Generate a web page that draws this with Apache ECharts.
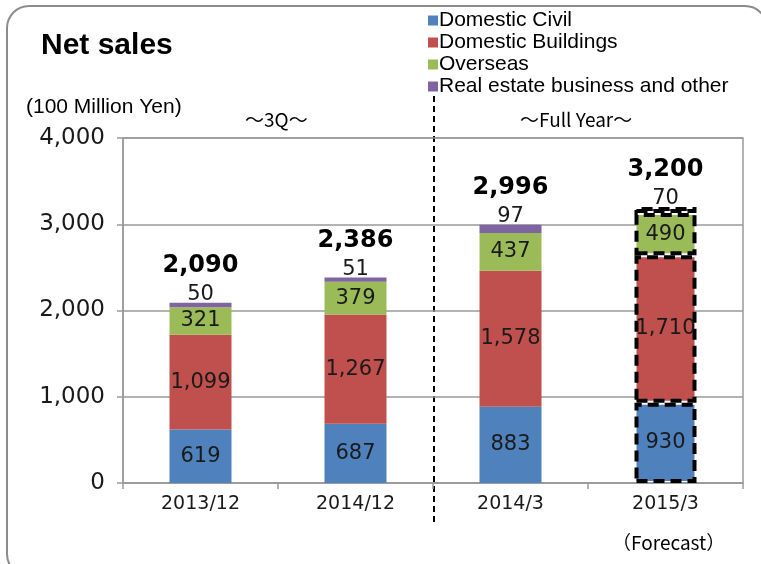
<!doctype html>
<html>
    <head>
        <meta charset="utf-8">
        <style>
            html, body { margin: 0; padding: 0; background: #fff; }
            #main { width: 761px; height: 564px; }
        </style>
    </head>
    <body>
        <div id="main"></div>
        <script src="https://cdn.jsdelivr.net/npm/echarts@6/dist/echarts.min.js"></script>
        <script>
            var categories = ['2013/12', '2014/12', '2014/3', '2015/3'];
            var domesticCivil = [619, 687, 883, 930];
            var domesticBuildings = [1099, 1267, 1578, 1710];
            var overseas = [321, 379, 437, 490];
            var realEstate = [50, 51, 97, 70];
            var totals = [2090, 2386, 2996, 3200];
            var yTicks = [0, 1000, 2000, 3000, 4000];
            var forecastIndex = 3;

            var NUM_FONT = 'DejaVu Sans';
            var TXT_FONT = 'Liberation Sans';

            function fmt(v) {
                return Number(v).toLocaleString('en-US');
            }

            // wrap the forecast bar in a dashed black outline
            function toData(arr) {
                return arr.map(function (v, i) {
                    if (i !== forecastIndex) return v;
                    return {
                        value: v,
                        itemStyle: { borderColor: '#000', borderWidth: 4, borderType: [11, 6] }
                    };
                });
            }

            function segment(name, arr, color) {
                return {
                    name: name,
                    type: 'bar',
                    stack: 'sales',
                    barWidth: 62,
                    data: toData(arr),
                    itemStyle: { color: color },
                    label: {
                        show: true,
                        position: 'inside',
                        color: '#1a1a1a',
                        fontFamily: NUM_FONT,
                        fontSize: 21,
                        formatter: function (p) { return fmt(p.value); }
                    }
                };
            }

            var chart = echarts.init(document.getElementById('main'));

            var topSeries = segment('Real estate business and other', realEstate, '#8064A2');
            topSeries.label = {
                show: true,
                position: 'top',
                distance: -2,
                formatter: function (p) {
                    return '{t|' + fmt(totals[p.dataIndex]) + '}\n{v|' + fmt(p.value) + '}';
                },
                rich: {
                    t: { fontFamily: NUM_FONT, fontSize: 24, fontWeight: 'bold', color: '#000', lineHeight: 38 },
                    v: { fontFamily: NUM_FONT, fontSize: 21, color: '#1a1a1a', lineHeight: 20 }
                }
            };

            chart.setOption({
                animation: false,
                title: {
                    text: 'Net sales',
                    left: 36,
                    top: 26,
                    textStyle: { fontFamily: TXT_FONT, fontSize: 30, fontWeight: 'bold', color: '#000' }
                },
                legend: {
                    orient: 'vertical',
                    left: 423,
                    top: 5,
                    itemWidth: 10,
                    itemHeight: 10,
                    itemGap: 1,
                    icon: 'rect',
                    textStyle: { fontFamily: TXT_FONT, fontSize: 21, color: '#000', padding: [0, 0, 0, -4] },
                    data: ['Domestic Civil', 'Domestic Buildings', 'Overseas', 'Real estate business and other']
                },
                grid: {
                    left: 123,
                    right: 18,
                    top: 138,
                    bottom: 81,
                    show: true,
                    borderColor: '#9a9a9a',
                    borderWidth: 1.5
                },
                xAxis: {
                    type: 'category',
                    data: categories,
                    axisLine: { lineStyle: { color: '#9a9a9a', width: 1.5 } },
                    axisTick: { show: true, length: 6, lineStyle: { color: '#9a9a9a', width: 1.5 } },
                    axisLabel: { color: '#1a1a1a', fontFamily: NUM_FONT, fontSize: 19, margin: 12 }
                },
                yAxis: {
                    type: 'value',
                    min: yTicks[0],
                    max: yTicks[yTicks.length - 1],
                    interval: 1000,
                    axisLine: { show: true, lineStyle: { color: '#9a9a9a', width: 1.5 } },
                    axisTick: { show: true, length: 6, lineStyle: { color: '#9a9a9a', width: 1.5 } },
                    splitLine: { lineStyle: { color: '#9a9a9a', width: 1.5 } },
                    axisLabel: {
                        color: '#1a1a1a',
                        fontFamily: NUM_FONT,
                        fontSize: 23,
                        margin: 18,
                        formatter: function (v) { return fmt(v); }
                    }
                },
                graphic: [
                    {
                        type: 'rect',
                        shape: { x: 7, y: 6, width: 760, height: 570, r: 22 },
                        style: { fill: 'none', stroke: '#8c8c8c', lineWidth: 2 },
                        silent: true
                    },
                    {
                        type: 'text',
                        left: 26,
                        top: 97,
                        style: { text: '(100 Million Yen)', fontFamily: TXT_FONT, fontSize: 21, fill: '#000' }
                    },
                    {
                        type: 'text',
                        left: 245,
                        top: 110,
                        style: { text: '～3Q～', fontFamily: 'Noto Sans CJK JP', fontSize: 19, fill: '#000' }
                    },
                    {
                        type: 'text',
                        left: 520,
                        top: 110,
                        style: { text: '～Full Year～', fontFamily: 'Noto Sans CJK JP', fontSize: 19, fill: '#000' }
                    },
                    {
                        type: 'line',
                        shape: { x1: 434, y1: 96, x2: 434, y2: 522 },
                        style: { stroke: '#000', lineWidth: 2, lineDash: [6, 4] },
                        silent: true
                    },
                    {
                        type: 'text',
                        left: 612,
                        top: 533,
                        style: { text: '（Forecast）', fontFamily: 'Noto Sans CJK JP', fontSize: 19, fill: '#000' }
                    }
                ],
                series: [
                    segment('Domestic Civil', domesticCivil, '#4F81BD'),
                    segment('Domestic Buildings', domesticBuildings, '#C0504D'),
                    segment('Overseas', overseas, '#9BBB59'),
                    topSeries
                ]
            });

            window.addEventListener('resize', function () {
                chart.resize();
            });
        </script>
    </body>
</html>
